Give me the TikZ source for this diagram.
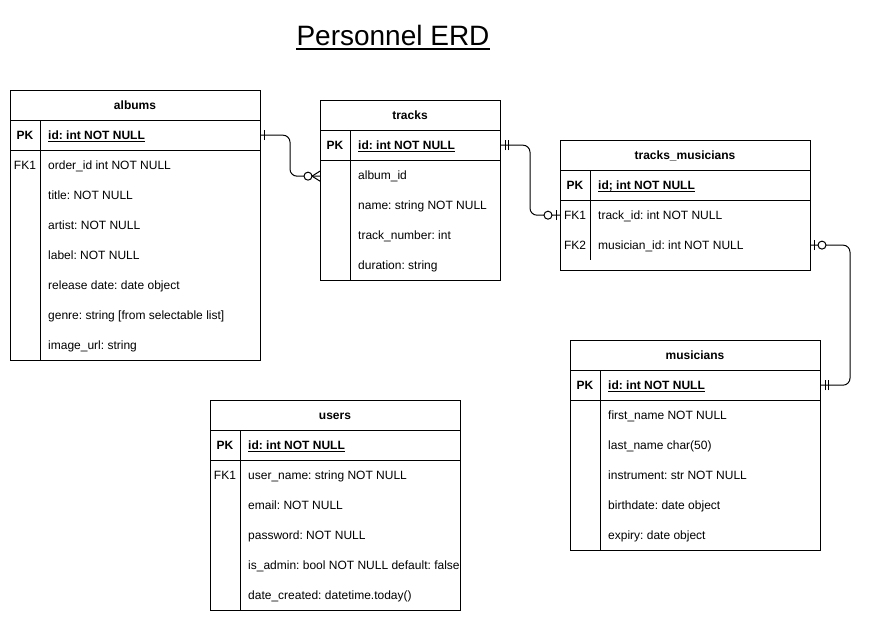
\documentclass[tikz,border=0pt]{standalone}
\usepackage{fontspec}
\setmainfont{Liberation Sans}
\frenchspacing
\begin{document}
\frenchspacing
\begin{tikzpicture}[x=1pt,y=-1pt,
  tbl/.style={draw, line width=1pt, rectangle, inner sep=0pt, outer sep=0pt, anchor=north west},
  hdr/.style={font=\fontsize{12}{14}\selectfont\bfseries, inner sep=0pt, anchor=base, yshift=-4.3pt},
  key/.style={font=\fontsize{12}{14}\selectfont, inner sep=0pt, anchor=base, yshift=-4.3pt},
  pkey/.style={key, font=\fontsize{12}{14}\selectfont\bfseries},
  fld/.style={font=\fontsize{12}{14}\selectfont, inner sep=0pt, anchor=base west, yshift=-4.3pt},
  pfld/.style={fld, font=\fontsize{12}{14}\selectfont\bfseries},
  rule/.style={line width=1pt},
  uline/.style={line width=1.1pt},
  conn/.style={line width=1pt, rounded corners=7pt},
  erone/.pic={\draw[line width=1pt] (4pt,-5pt) -- (4pt,5pt);},
  ermandone/.pic={\draw[line width=1pt] (5pt,-5pt) -- (5pt,5pt) (8pt,-5pt) -- (8pt,5pt);},
  erzeroone/.pic={\draw[line width=1pt] (4pt,-5pt) -- (4pt,5pt);
                  \draw[line width=1pt, fill=white] (12pt,0pt) circle[radius=4pt];},
  erzeromany/.pic={\draw[line width=1pt] (0pt,-5pt) -- (8pt,0pt) -- (0pt,5pt);
                  \draw[line width=1pt, fill=white] (12pt,0pt) circle[radius=4pt];}
]
\fill[white] (0,0) rectangle (870,621);
\useasboundingbox (0,0) rectangle (870,621);

% title
\node[font=\fontsize{28}{32}\selectfont, inner sep=0pt, anchor=base] (title) at (393,45) {Personnel ERD};
\draw[line width=2pt] ([yshift=-4pt]title.base west) -- ([yshift=-4pt]title.base east);

% ---------------- albums
\node[tbl, minimum width=250pt, minimum height=270pt] (albums) at (10,90) {};
\draw[rule] ([yshift=-30pt]albums.north west) -- ([yshift=-30pt]albums.north east);
\draw[rule] ([yshift=-60pt]albums.north west) -- ([yshift=-60pt]albums.north east);
\draw[rule] ([shift={(30pt,-30pt)}]albums.north west) -- ([xshift=30pt]albums.south west);
\node[hdr] (albums-h) at (135,105) {albums};
\node[pkey] (albums-pkk) at (25,135) {PK};
\node[pfld] (albums-pk) at (48,135) {id: int NOT NULL};
\draw[uline] ([yshift=-2pt]albums-pk.base west) -- ([yshift=-2pt]albums-pk.base east);
\node[key] (albums-fk1) at (25,165) {FK1};
\node[fld] (albums-r1) at (48,165) {order\_id int NOT NULL};
\node[fld] (albums-r2) at (48,195) {title: NOT NULL};
\node[fld] (albums-r3) at (48,225) {artist: NOT NULL};
\node[fld] (albums-r4) at (48,255) {label: NOT NULL};
\node[fld] (albums-r5) at (48,285) {release date: date object};
\node[fld] (albums-r6) at (48,315) {genre: string [from selectable list]};
\node[fld] (albums-r7) at (48,345) {image\_url: string};

% ---------------- tracks
\node[tbl, minimum width=180pt, minimum height=180pt] (tracks) at (320,100) {};
\draw[rule] ([yshift=-30pt]tracks.north west) -- ([yshift=-30pt]tracks.north east);
\draw[rule] ([yshift=-60pt]tracks.north west) -- ([yshift=-60pt]tracks.north east);
\draw[rule] ([shift={(30pt,-30pt)}]tracks.north west) -- ([xshift=30pt]tracks.south west);
\node[hdr] (tracks-h) at (410,115) {tracks};
\node[pkey] (tracks-pkk) at (335,145) {PK};
\node[pfld] (tracks-pk) at (358,145) {id: int NOT NULL};
\draw[uline] ([yshift=-2pt]tracks-pk.base west) -- ([yshift=-2pt]tracks-pk.base east);
\node[fld] (tracks-r1) at (358,175) {album\_id};
\node[fld] (tracks-r2) at (358,205) {name: string NOT NULL};
\node[fld] (tracks-r3) at (358,235) {track\_number: int};
\node[fld] (tracks-r4) at (358,265) {duration: string};

% ---------------- tracks_musicians
\node[tbl, minimum width=250pt, minimum height=130pt] (tm) at (560,140) {};
\draw[rule] ([yshift=-30pt]tm.north west) -- ([yshift=-30pt]tm.north east);
\draw[rule] ([yshift=-60pt]tm.north west) -- ([yshift=-60pt]tm.north east);
\draw[rule] ([shift={(30pt,-30pt)}]tm.north west) -- ([shift={(30pt,10pt)}]tm.south west);
\node[hdr] (tm-h) at (685,155) {tracks\_musicians};
\node[pkey] (tm-pkk) at (575,185) {PK};
\node[pfld] (tm-pk) at (598,185) {id; int NOT NULL};
\draw[uline] ([yshift=-2pt]tm-pk.base west) -- ([yshift=-2pt]tm-pk.base east);
\node[key] (tm-fk1) at (575,215) {FK1};
\node[fld] (tm-r1) at (598,215) {track\_id: int NOT NULL};
\node[key] (tm-fk2) at (575,245) {FK2};
\node[fld] (tm-r2) at (598,245) {musician\_id: int NOT NULL};

% ---------------- musicians
\node[tbl, minimum width=250pt, minimum height=210pt] (mus) at (570,340) {};
\draw[rule] ([yshift=-30pt]mus.north west) -- ([yshift=-30pt]mus.north east);
\draw[rule] ([yshift=-60pt]mus.north west) -- ([yshift=-60pt]mus.north east);
\draw[rule] ([shift={(30pt,-30pt)}]mus.north west) -- ([xshift=30pt]mus.south west);
\node[hdr] (mus-h) at (695,355) {musicians};
\node[pkey] (mus-pkk) at (585,385) {PK};
\node[pfld] (mus-pk) at (608,385) {id: int NOT NULL};
\draw[uline] ([yshift=-2pt]mus-pk.base west) -- ([yshift=-2pt]mus-pk.base east);
\node[fld] (mus-r1) at (608,415) {first\_name NOT NULL};
\node[fld] (mus-r2) at (608,445) {last\_name char(50)};
\node[fld] (mus-r3) at (608,475) {instrument: str NOT NULL};
\node[fld] (mus-r4) at (608,505) {birthdate: date object};
\node[fld] (mus-r5) at (608,535) {expiry: date object};

% ---------------- users
\node[tbl, minimum width=250pt, minimum height=210pt] (users) at (210,400) {};
\draw[rule] ([yshift=-30pt]users.north west) -- ([yshift=-30pt]users.north east);
\draw[rule] ([yshift=-60pt]users.north west) -- ([yshift=-60pt]users.north east);
\draw[rule] ([shift={(30pt,-30pt)}]users.north west) -- ([xshift=30pt]users.south west);
\node[hdr] (users-h) at (335,415) {users};
\node[pkey] (users-pkk) at (225,445) {PK};
\node[pfld] (users-pk) at (248,445) {id: int NOT NULL};
\draw[uline] ([yshift=-2pt]users-pk.base west) -- ([yshift=-2pt]users-pk.base east);
\node[key] (users-fk1) at (225,475) {FK1};
\node[fld] (users-r1) at (248,475) {user\_name: string NOT NULL};
\node[fld] (users-r2) at (248,505) {email: NOT NULL};
\node[fld] (users-r3) at (248,535) {password: NOT NULL};
\node[fld] (users-r4) at (248,565) {is\_admin: bool NOT NULL default: false};
\node[fld] (users-r5) at (248,595) {date\_created: datetime.today()};

% ---------------- connectors
\coordinate (c1s) at (albums.east |- albums-pkk);
\coordinate (c1e) at (tracks.west |- tracks-r1);
\coordinate (c1m) at ([xshift=30pt]c1s);
\draw[conn] (c1s) -| (c1m |- c1e) -- (c1e);

\coordinate (c2s) at (tracks.east |- tracks-pkk);
\coordinate (c2e) at (tm.west |- tm-fk1);
\coordinate (c2m) at ([xshift=30pt]c2s);
\draw[conn] (c2s) -| (c2m |- c2e) -- (c2e);

\coordinate (c3s) at (tm.east |- tm-fk2);
\coordinate (c3e) at (mus.east |- mus-pkk);
\coordinate (c3m) at ([xshift=30pt]c3e);
\draw[conn] (c3s) -| (c3m |- c3e) -- (c3e);

% markers
\pic at (c1s) {erone};
\pic[xscale=-1] at (c1e) {erzeromany};
\pic at (c2s) {ermandone};
\pic[xscale=-1] at (c2e) {erzeroone};
\pic at (c3s) {erzeroone};
\pic at (c3e) {ermandone};
\end{tikzpicture}
\end{document}
